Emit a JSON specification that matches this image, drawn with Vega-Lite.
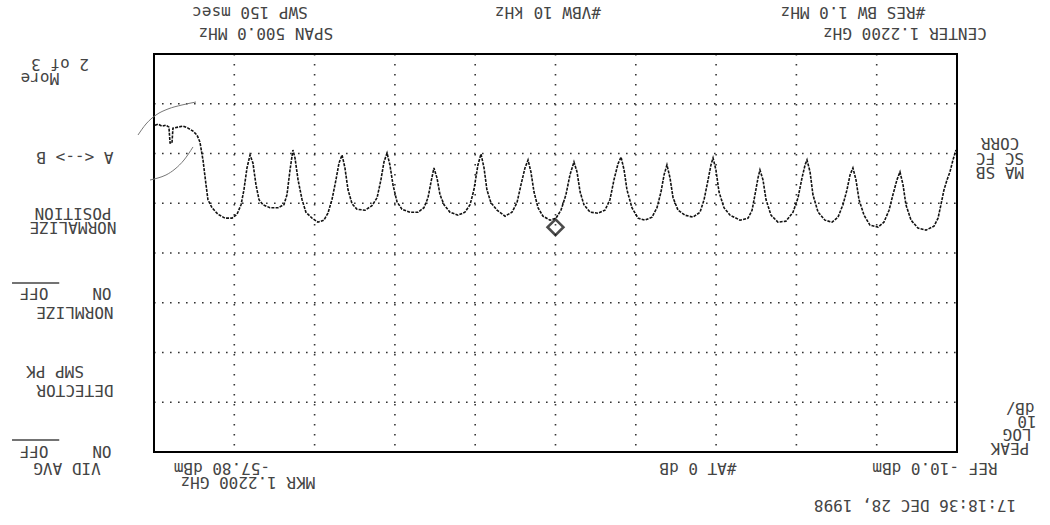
{
  "$schema": "https://vega.github.io/schema/vega-lite/v6.json",
  "autosize": {"type": "fit", "contains": "padding"},
  "width": 1050,
  "height": 525,
  "padding": 0,
  "background": "white",
  "view": {"stroke": null},
  "datasets": {
    "trace": [
      {"mhz":1469.4,"dbm":-75.7},{"mhz":1467.5,"dbm":-75.9},{"mhz":1465.0,"dbm":-75.5},{"mhz":1462.5,"dbm":-75.7},
      {"mhz":1460.7,"dbm":-75.3},{"mhz":1460.0,"dbm":-72.1},{"mhz":1458.8,"dbm":-72.1},{"mhz":1458.2,"dbm":-75.1},
      {"mhz":1455.1,"dbm":-75.3},{"mhz":1451.9,"dbm":-75.5},{"mhz":1448.8,"dbm":-75.1},{"mhz":1445.7,"dbm":-74.5},
      {"mhz":1443.2,"dbm":-73.7},{"mhz":1441.4,"dbm":-72.3},{"mhz":1439.5,"dbm":-68.7},{"mhz":1437.6,"dbm":-63.7},
      {"mhz":1436.4,"dbm":-60.7},{"mhz":1433.9,"dbm":-59.1},{"mhz":1430.2,"dbm":-57.8},{"mhz":1425.8,"dbm":-57.0},
      {"mhz":1421.4,"dbm":-57.0},{"mhz":1418.3,"dbm":-57.8},{"mhz":1415.8,"dbm":-59.7},{"mhz":1414.0,"dbm":-62.7},
      {"mhz":1412.1,"dbm":-67.1},{"mhz":1410.2,"dbm":-69.7},{"mhz":1408.4,"dbm":-68.1},{"mhz":1406.5,"dbm":-63.7},
      {"mhz":1404.6,"dbm":-60.7},{"mhz":1402.1,"dbm":-59.7},{"mhz":1397.8,"dbm":-59.1},{"mhz":1392.8,"dbm":-59.1},
      {"mhz":1389.1,"dbm":-59.7},{"mhz":1387.2,"dbm":-61.7},{"mhz":1385.3,"dbm":-66.7},{"mhz":1383.5,"dbm":-70.7},
      {"mhz":1382.2,"dbm":-69.1},{"mhz":1380.3,"dbm":-64.7},{"mhz":1377.8,"dbm":-60.7},{"mhz":1375.4,"dbm":-58.2},
      {"mhz":1371.6,"dbm":-57.0},{"mhz":1367.9,"dbm":-56.2},{"mhz":1364.2,"dbm":-56.6},{"mhz":1361.7,"dbm":-58.0},
      {"mhz":1359.2,"dbm":-60.7},{"mhz":1356.7,"dbm":-64.7},{"mhz":1354.8,"dbm":-68.1},{"mhz":1352.9,"dbm":-69.7},
      {"mhz":1351.1,"dbm":-67.1},{"mhz":1349.2,"dbm":-62.7},{"mhz":1346.7,"dbm":-59.9},{"mhz":1343.6,"dbm":-58.8},
      {"mhz":1338.6,"dbm":-58.6},{"mhz":1334.3,"dbm":-59.5},{"mhz":1331.1,"dbm":-61.1},{"mhz":1328.7,"dbm":-64.7},
      {"mhz":1326.8,"dbm":-68.3},{"mhz":1324.9,"dbm":-70.1},{"mhz":1323.1,"dbm":-67.7},{"mhz":1321.2,"dbm":-63.7},
      {"mhz":1318.7,"dbm":-60.3},{"mhz":1315.6,"dbm":-58.8},{"mhz":1310.6,"dbm":-58.2},{"mhz":1305.6,"dbm":-58.2},
      {"mhz":1301.9,"dbm":-59.1},{"mhz":1299.4,"dbm":-61.1},{"mhz":1297.5,"dbm":-64.3},{"mhz":1295.7,"dbm":-67.1},
      {"mhz":1293.8,"dbm":-65.1},{"mhz":1291.9,"dbm":-61.7},{"mhz":1289.4,"dbm":-59.7},{"mhz":1285.7,"dbm":-58.2},
      {"mhz":1280.7,"dbm":-57.6},{"mhz":1276.4,"dbm":-58.2},{"mhz":1273.2,"dbm":-59.7},{"mhz":1270.8,"dbm":-62.7},
      {"mhz":1268.3,"dbm":-67.7},{"mhz":1266.4,"dbm":-69.9},{"mhz":1264.5,"dbm":-67.1},{"mhz":1262.7,"dbm":-62.7},
      {"mhz":1260.2,"dbm":-60.1},{"mhz":1256.4,"dbm":-58.6},{"mhz":1251.4,"dbm":-57.4},{"mhz":1247.1,"dbm":-58.2},
      {"mhz":1244.0,"dbm":-60.1},{"mhz":1241.5,"dbm":-63.7},{"mhz":1239.0,"dbm":-67.1},{"mhz":1237.1,"dbm":-68.7},
      {"mhz":1235.3,"dbm":-66.3},{"mhz":1233.4,"dbm":-62.3},{"mhz":1230.9,"dbm":-59.1},{"mhz":1227.8,"dbm":-57.4},
      {"mhz":1223.4,"dbm":-56.6},{"mhz":1219.7,"dbm":-57.0},{"mhz":1216.6,"dbm":-58.6},{"mhz":1213.5,"dbm":-61.7},
      {"mhz":1211.0,"dbm":-65.7},{"mhz":1208.5,"dbm":-68.3},{"mhz":1206.6,"dbm":-66.3},{"mhz":1204.7,"dbm":-62.3},
      {"mhz":1202.3,"dbm":-59.7},{"mhz":1198.5,"dbm":-58.2},{"mhz":1193.5,"dbm":-58.0},{"mhz":1189.2,"dbm":-58.6},
      {"mhz":1186.1,"dbm":-60.7},{"mhz":1183.6,"dbm":-64.7},{"mhz":1181.1,"dbm":-67.9},{"mhz":1179.2,"dbm":-69.3},
      {"mhz":1177.3,"dbm":-66.7},{"mhz":1175.5,"dbm":-62.7},{"mhz":1172.4,"dbm":-59.1},{"mhz":1168.6,"dbm":-57.0},
      {"mhz":1164.3,"dbm":-56.6},{"mhz":1159.9,"dbm":-57.2},{"mhz":1156.8,"dbm":-59.1},{"mhz":1154.3,"dbm":-62.3},
      {"mhz":1152.4,"dbm":-65.7},{"mhz":1150.6,"dbm":-67.7},{"mhz":1148.7,"dbm":-65.1},{"mhz":1146.8,"dbm":-61.1},
      {"mhz":1143.7,"dbm":-58.6},{"mhz":1139.4,"dbm":-57.6},{"mhz":1134.4,"dbm":-57.2},{"mhz":1130.0,"dbm":-58.2},
      {"mhz":1127.5,"dbm":-60.7},{"mhz":1125.0,"dbm":-64.7},{"mhz":1123.2,"dbm":-67.7},{"mhz":1121.9,"dbm":-69.1},
      {"mhz":1120.1,"dbm":-66.7},{"mhz":1118.2,"dbm":-62.3},{"mhz":1115.1,"dbm":-59.1},{"mhz":1111.3,"dbm":-57.6},
      {"mhz":1105.1,"dbm":-56.6},{"mhz":1100.1,"dbm":-57.0},{"mhz":1097.6,"dbm":-58.6},{"mhz":1095.8,"dbm":-61.7},
      {"mhz":1093.9,"dbm":-65.1},{"mhz":1092.7,"dbm":-66.7},{"mhz":1090.8,"dbm":-64.7},{"mhz":1088.9,"dbm":-60.7},
      {"mhz":1085.8,"dbm":-57.6},{"mhz":1081.5,"dbm":-56.2},{"mhz":1076.5,"dbm":-56.4},{"mhz":1072.1,"dbm":-58.2},
      {"mhz":1069.0,"dbm":-61.1},{"mhz":1066.5,"dbm":-65.1},{"mhz":1064.6,"dbm":-67.7},{"mhz":1063.4,"dbm":-68.7},
      {"mhz":1061.5,"dbm":-66.3},{"mhz":1059.7,"dbm":-61.7},{"mhz":1056.5,"dbm":-58.2},{"mhz":1052.2,"dbm":-56.6},
      {"mhz":1047.8,"dbm":-56.2},{"mhz":1044.1,"dbm":-57.2},{"mhz":1041.0,"dbm":-59.7},{"mhz":1038.5,"dbm":-62.7},
      {"mhz":1036.6,"dbm":-65.7},{"mhz":1034.8,"dbm":-67.1},{"mhz":1032.9,"dbm":-64.7},{"mhz":1031.0,"dbm":-60.7},
      {"mhz":1027.9,"dbm":-57.6},{"mhz":1024.2,"dbm":-55.6},{"mhz":1019.2,"dbm":-55.2},{"mhz":1015.5,"dbm":-56.2},
      {"mhz":1012.3,"dbm":-58.6},{"mhz":1009.9,"dbm":-61.7},{"mhz":1007.4,"dbm":-64.7},{"mhz":1005.5,"dbm":-66.3},
      {"mhz":1003.6,"dbm":-63.7},{"mhz":1001.8,"dbm":-59.7},{"mhz":998.6,"dbm":-56.6},{"mhz":994.3,"dbm":-55.0},
      {"mhz":989.3,"dbm":-54.6},{"mhz":984.3,"dbm":-55.4},{"mhz":981.8,"dbm":-57.0},{"mhz":980.0,"dbm":-59.7},
      {"mhz":978.1,"dbm":-62.7},{"mhz":976.2,"dbm":-64.7},{"mhz":974.4,"dbm":-66.3},{"mhz":972.5,"dbm":-68.7},
      {"mhz":970.6,"dbm":-70.7}
    ],
    "vgrid": [
      {"mhz":1420,"dbm":-90,"dbm2":-10},{"mhz":1370,"dbm":-90,"dbm2":-10},{"mhz":1320,"dbm":-90,"dbm2":-10},
      {"mhz":1270,"dbm":-90,"dbm2":-10},{"mhz":1220,"dbm":-90,"dbm2":-10},{"mhz":1170,"dbm":-90,"dbm2":-10},
      {"mhz":1120,"dbm":-90,"dbm2":-10},{"mhz":1070,"dbm":-90,"dbm2":-10},{"mhz":1020,"dbm":-90,"dbm2":-10}
    ],
    "hgrid": [
      {"dbm":-80,"mhz":1470,"mhz2":970},{"dbm":-70,"mhz":1470,"mhz2":970},{"dbm":-60,"mhz":1470,"mhz2":970},
      {"dbm":-50,"mhz":1470,"mhz2":970},{"dbm":-40,"mhz":1470,"mhz2":970},{"dbm":-30,"mhz":1470,"mhz2":970},
      {"dbm":-20,"mhz":1470,"mhz2":970}
    ],
    "frame": [{"mhz":1470,"mhz2":970,"dbm":-90,"dbm2":-10}],
    "arcs": [
      {"arc":"upper","mhz":1479.96,"dbm":-73.72},{"arc":"upper","mhz":1474.98,"dbm":-75.93},
      {"arc":"upper","mhz":1468.75,"dbm":-77.74},{"arc":"upper","mhz":1461.28,"dbm":-78.95},
      {"arc":"upper","mhz":1452.57,"dbm":-79.75},{"arc":"upper","mhz":1443.85,"dbm":-80.35},
      {"arc":"lower","mhz":1472.49,"dbm":-64.67},{"arc":"lower","mhz":1467.51,"dbm":-65.08},
      {"arc":"lower","mhz":1462.53,"dbm":-65.68},{"arc":"lower","mhz":1456.92,"dbm":-66.88},
      {"arc":"lower","mhz":1451.32,"dbm":-68.69},{"arc":"lower","mhz":1445.72,"dbm":-71.31}
    ],
    "marker": [{"mhz":1220.0,"dbm":-57.8}],
    "overlines": [
      {"mhz":1558.4,"mhz2":1529.0,"dbm":-43.97},
      {"mhz":1558.4,"mhz2":1529.0,"dbm":-12.41}
    ],
    "labels": [
      {"label":"SWP 150 msec","mhz":1410.2,"dbm":-98.44},
      {"label":"SPAN 500.0 MHz","mhz":1400.3,"dbm":-94.22},
      {"label":"#VBW 10 kHz","mhz":1224.7,"dbm":-98.44},
      {"label":"#RES BW 1.0 MHz","mhz":1034.8,"dbm":-98.44},
      {"label":"CENTER 1.2200 GHz","mhz":1002.4,"dbm":-94.22},
      {"label":"2 of 3","mhz":1528.5,"dbm":-87.99},
      {"label":"More","mhz":1541.0,"dbm":-85.18},
      {"label":"A <--> B","mhz":1519.2,"dbm":-69.30},
      {"label":"POSITION","mhz":1520.4,"dbm":-58.04},
      {"label":"NORMALIZE","mhz":1520.4,"dbm":-55.23},
      {"label":"OFF","mhz":1544.7,"dbm":-41.96},
      {"label":"ON","mhz":1502.4,"dbm":-41.96},
      {"label":"NORMLIZE","mhz":1519.2,"dbm":-38.14},
      {"label":"SMP PK","mhz":1531.6,"dbm":-26.28},
      {"label":"DETECTOR","mhz":1519.2,"dbm":-22.46},
      {"label":"OFF","mhz":1544.7,"dbm":-10.20},
      {"label":"ON","mhz":1502.4,"dbm":-10.20},
      {"label":"VID AVG","mhz":1524.2,"dbm":-6.78},
      {"label":"-57.80 dBm","mhz":1427.7,"dbm":-6.78},
      {"label":"MKR 1.2200 GHz","mhz":1411.5,"dbm":-3.97},
      {"label":"#AT 0 dB","mhz":1131.3,"dbm":-6.78},
      {"label":"REF -10.0 dBm","mhz":983.7,"dbm":-6.78},
      {"label":"17:18:36 DEC 28, 1998","mhz":996.1,"dbm":0.66},
      {"label":"CORR","mhz":943.2,"dbm":-72.11},
      {"label":"SC FC","mhz":943.2,"dbm":-69.10},
      {"label":"MA SB","mhz":943.2,"dbm":-66.28},
      {"label":"dB/","mhz":930.8,"dbm":-18.84},
      {"label":"10","mhz":926.4,"dbm":-16.23},
      {"label":"LOG","mhz":932.6,"dbm":-13.62},
      {"label":"PEAK","mhz":937.0,"dbm":-10.80}
    ]
  },
  "layer": [
    {
      "data": {"name": "vgrid"},
      "mark": {"type": "rule", "stroke": "#333", "strokeWidth": 1.6, "strokeDash": [1.6, 8.4]},
      "encoding": {
        "x": {"field": "mhz", "type": "quantitative", "scale": {"domain": [912.09, 1565.89], "reverse": true, "nice": false, "zero": false}, "axis": null},
        "y": {"field": "dbm", "type": "quantitative", "scale": {"domain": [-100.855, 4.675], "reverse": true, "nice": false, "zero": false}, "axis": null},
        "y2": {"field": "dbm2"}
      }
    },
    {
      "data": {"name": "hgrid"},
      "mark": {"type": "rule", "stroke": "#333", "strokeWidth": 1.6, "strokeDash": [1.6, 6.4]},
      "encoding": {
        "x": {"field": "mhz", "type": "quantitative"},
        "x2": {"field": "mhz2"},
        "y": {"field": "dbm", "type": "quantitative"}
      }
    },
    {
      "data": {"name": "frame"},
      "mark": {"type": "rect", "fillOpacity": 0, "stroke": "#000", "strokeWidth": 2},
      "encoding": {
        "x": {"field": "mhz", "type": "quantitative"},
        "x2": {"field": "mhz2"},
        "y": {"field": "dbm", "type": "quantitative"},
        "y2": {"field": "dbm2"}
      }
    },
    {
      "data": {"name": "arcs"},
      "mark": {"type": "line", "stroke": "#777", "strokeWidth": 1, "interpolate": "monotone"},
      "encoding": {
        "x": {"field": "mhz", "type": "quantitative"},
        "y": {"field": "dbm", "type": "quantitative"},
        "detail": {"field": "arc"}
      }
    },
    {
      "data": {"name": "trace"},
      "mark": {"type": "line", "stroke": "#111", "strokeWidth": 1.6, "strokeDash": [3, 1.2]},
      "encoding": {
        "x": {"field": "mhz", "type": "quantitative"},
        "y": {"field": "dbm", "type": "quantitative"}
      }
    },
    {
      "data": {"name": "marker"},
      "mark": {"type": "point", "shape": "diamond", "size": 250, "filled": false, "stroke": "#000", "strokeWidth": 2.6, "yOffset": 13},
      "encoding": {
        "x": {"field": "mhz", "type": "quantitative"},
        "y": {"field": "dbm", "type": "quantitative"}
      }
    },
    {
      "data": {"name": "overlines"},
      "mark": {"type": "rule", "stroke": "#444", "strokeWidth": 1.5},
      "encoding": {
        "x": {"field": "mhz", "type": "quantitative"},
        "x2": {"field": "mhz2"},
        "y": {"field": "dbm", "type": "quantitative"}
      }
    },
    {
      "data": {"name": "labels"},
      "mark": {"type": "text", "angle": 180, "align": "center", "baseline": "middle", "font": "DejaVu Sans Mono", "fontSize": 16, "fill": "#444"},
      "encoding": {
        "x": {"field": "mhz", "type": "quantitative"},
        "y": {"field": "dbm", "type": "quantitative"},
        "text": {"field": "label"}
      }
    }
  ]
}
